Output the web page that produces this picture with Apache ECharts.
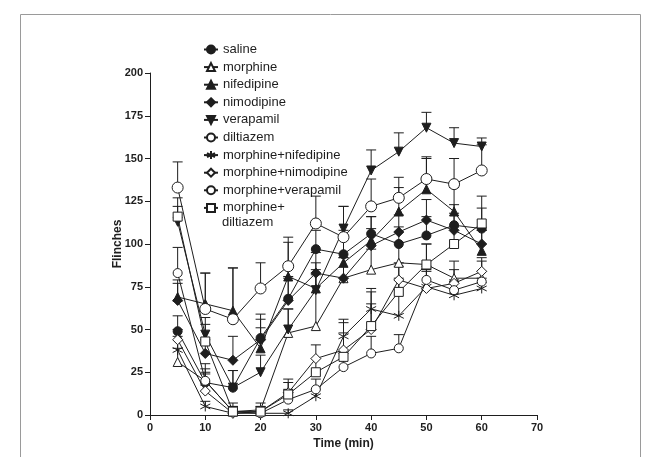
<!DOCTYPE html>
<html>
<head>
<meta charset="utf-8">
<script src="https://cdn.jsdelivr.net/npm/echarts@6/dist/echarts.min.js"></script>
<style>
html,body{margin:0;padding:0;background:#fff;}
#chart{width:659px;height:457px;}
</style>
</head>
<body>
<div id="chart"></div>
<script>
// ---- data ----
const times = [5, 10, 15, 20, 25, 30, 35, 40, 45, 50, 55, 60];
const xTicks = [0, 10, 20, 30, 40, 50, 60, 70];
const yTicks = [0, 25, 50, 75, 100, 125, 150, 175, 200];

const seriesNames = ['saline', 'morphine', 'nifedipine', 'nimodipine', 'verapamil', 'diltiazem',
  'morphine+nifedipine', 'morphine+nimodipine', 'morphine+verapamil', 'morphine+diltiazem'];

const saline      = [49, 19, 16, 45, 68, 97, 94, 106, 100, 105, 111, 109];
const morphine    = [31, 20, 2, 3, 48, 52, 80, 85, 89, 88, 80, 80];
const nifedipine  = [69, 65, 61, 39, 81, 74, 89, 102, 119, 132, 119, 96];
const nimodipine  = [67, 36, 32, 44, 67, 83, 80, 99, 107, 114, 108, 100];
const verapamil   = [113, 47, 16, 25, 50, 73, 109, 143, 154, 168, 159, 157];
const diltiazem   = [133, 62, 56, 74, 87, 112, 104, 122, 127, 138, 135, 143];
const morNif      = [38, 5, 1, 1, 1, 11, 46, 62, 58, 75, 70, 74];
const morNim      = [44, 14, 1, 2, 13, 33, 38, 50, 79, 74, 77, 84];
const morVer      = [83, 20, 2, 1, 9, 15, 28, 36, 39, 79, 73, 78];
const morDil      = [116, 43, 2, 2, 12, 25, 34, 52, 72, 88, 100, 112];

const salineErr     = [9, 8, 10, 14, 12, 11, 14, 10, 10, 11, 12, 12];
const morphineErr   = [8, 5, 5, 4, 14, 30, 12, 12, 12, 12, 10, 10];
const nifedipineErr = [10, 18, 25, 12, 20, 15, 15, 14, 14, 18, 14, 12];
const nimodipineErr = [10, 8, 14, 12, 14, 12, 12, 10, 10, 12, 10, 8];
const verapamilErr  = [9, 10, 10, 10, 12, 12, 13, 12, 11, 9, 9, 5];
const diltiazemErr  = [15, 21, 30, 15, 17, 16, 18, 16, 12, 13, 15, 15];
const morNifErr     = [8, 3, 2, 2, 2, 4, 10, 10, 22, 10, 8, 6];
const morNimErr     = [6, 10, 3, 3, 8, 8, 10, 15, 10, 10, 8, 8];
const morVerErr     = [15, 10, 3, 3, 6, 6, 8, 10, 8, 8, 6, 6];
const morDilErr     = [11, 10, 3, 3, 7, 8, 20, 22, 15, 12, 10, 16];

// ---- styles ----
const ink = '#1e1e1e';
const triDown = 'path://M-5,-4.3L5,-4.3L0,4.3Z';
const aster = 'path://M0,-5L0,5M-4.33,-2.5L4.33,2.5M-4.33,2.5L4.33,-2.5';

const styles = [
  {symbol: 'circle', size: 9, fill: ink},
  {symbol: 'triangle', size: 9, fill: '#fff'},
  {symbol: 'triangle', size: 9, fill: ink},
  {symbol: 'diamond', size: 10, fill: ink},
  {symbol: triDown, size: 9, fill: ink},
  {symbol: 'circle', size: 11, fill: '#fff'},
  {symbol: aster, size: 10, fill: ink},
  {symbol: 'diamond', size: 10, fill: '#fff'},
  {symbol: 'circle', size: 9, fill: '#fff'},
  {symbol: 'rect', size: 9, fill: '#fff'}
];
const values = [saline, morphine, nifedipine, nimodipine, verapamil, diltiazem, morNif, morNim, morVer, morDil];
const errs = [salineErr, morphineErr, nifedipineErr, nimodipineErr, verapamilErr, diltiazemErr, morNifErr, morNimErr, morVerErr, morDilErr];

function errRender(params, api) {
  const x = api.value(0), y = api.value(1), top = api.value(2);
  const p0 = api.coord([x, y]);
  const p1 = api.coord([x, top]);
  const w = 5;
  return {
    type: 'group',
    children: [
      {type: 'line', shape: {x1: p0[0], y1: p0[1], x2: p1[0], y2: p1[1]}, style: {stroke: ink, lineWidth: 1}},
      {type: 'line', shape: {x1: p1[0] - w, y1: p1[1], x2: p1[0] + w, y2: p1[1]}, style: {stroke: ink, lineWidth: 1}}
    ]
  };
}

const series = [];
values.forEach((vals, k) => {
  series.push({
    type: 'custom',
    name: seriesNames[k] + ' err',
    renderItem: errRender,
    data: times.map((t, i) => [t, vals[i], vals[i] + errs[k][i]]),
    encode: {x: 0, y: [1, 2]},
    z: 1,
    silent: true
  });
});
values.forEach((vals, k) => {
  const st = styles[k];
  series.push({
    type: 'line',
    name: seriesNames[k],
    data: times.map((t, i) => [t, vals[i]]),
    symbol: st.symbol,
    symbolSize: st.size,
    showAllSymbol: true,
    itemStyle: {color: st.fill, borderColor: ink, borderWidth: 1, opacity: 1},
    lineStyle: {color: ink, width: 1},
    emphasis: {disabled: true},
    z: 2 + k
  });
});

const chart = echarts.init(document.getElementById('chart'), null, {renderer: 'canvas'});
chart.setOption({
  animation: false,
  backgroundColor: '#fff',
  textStyle: {fontFamily: 'Liberation Sans, Arial, sans-serif', color: ink},
  grid: {left: 150, right: 122, top: 73, bottom: 42},
  legend: {
    data: seriesNames,
    orient: 'vertical',
    left: 203,
    top: 43,
    padding: 0,
    itemWidth: 14,
    itemHeight: 10,
    itemGap: 4.6,
    selectedMode: false,
    formatter: function (n) { return n === 'morphine+diltiazem' ? 'morphine+' : n; },
    textStyle: {fontSize: 13, color: ink, lineHeight: 10, padding: [0, 0, 0, 0]}
  },
  graphic: [
    {type: 'rect', shape: {x: 20.5, y: 14.5, width: 620, height: 470}, style: {fill: 'none', stroke: '#9a9a9a', lineWidth: 1}, silent: true},
    {type: 'text', left: 222, top: 216, style: {text: 'diltiazem', fontSize: 13, fill: ink, fontFamily: 'Liberation Sans, Arial, sans-serif'}}
  ],
  xAxis: {
    type: 'value',
    min: xTicks[0],
    max: xTicks[xTicks.length - 1],
    interval: 10,
    name: 'Time (min)',
    nameLocation: 'middle',
    nameGap: 23,
    nameMoveOverlap: false,
    nameTextStyle: {fontWeight: 'bold', fontSize: 12, color: ink},
    axisLine: {lineStyle: {color: ink, width: 1}},
    axisTick: {length: 5, lineStyle: {color: ink}},
    axisLabel: {fontWeight: 'bold', fontSize: 11, color: ink, margin: 7},
    splitLine: {show: false}
  },
  yAxis: {
    type: 'value',
    min: yTicks[0],
    max: yTicks[yTicks.length - 1],
    interval: 25,
    name: 'Flinches',
    nameLocation: 'middle',
    nameGap: 26,
    nameMoveOverlap: false,
    nameTextStyle: {fontWeight: 'bold', fontSize: 12, color: ink},
    axisLine: {show: true, lineStyle: {color: ink, width: 1}},
    axisTick: {show: true, length: 5, lineStyle: {color: ink}},
    axisLabel: {fontWeight: 'bold', fontSize: 11, color: ink, margin: 7},
    splitLine: {show: false}
  },
  series: series
});
</script>
</body>
</html>
